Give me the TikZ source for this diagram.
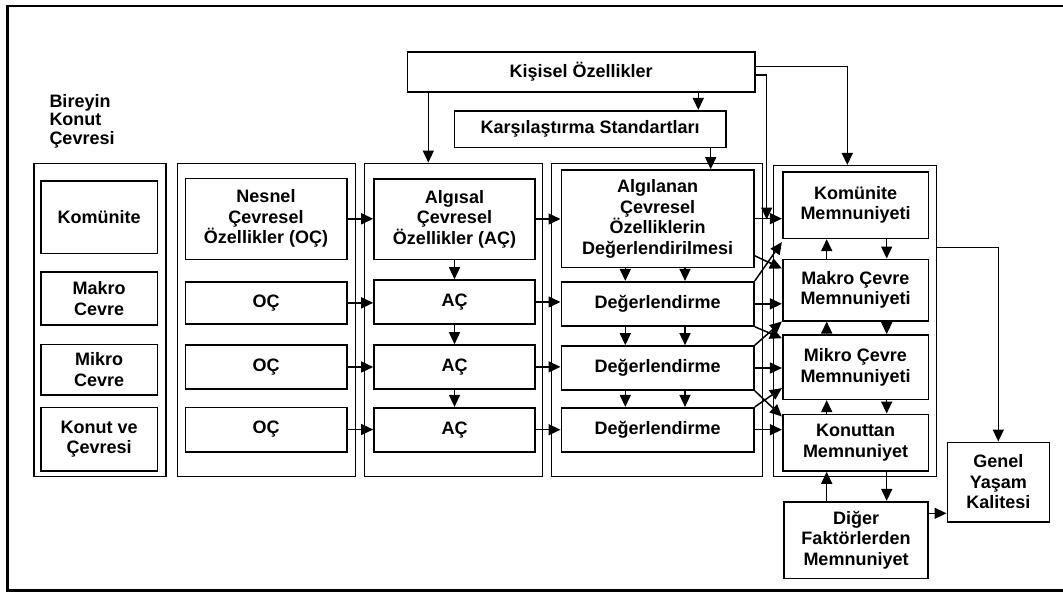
\documentclass[tikz,border=0pt]{standalone}
\usepackage{fontspec}
\setmainfont{Liberation Sans}
\usetikzlibrary{arrows.meta,calc}
\begin{document}
\begin{tikzpicture}[x=1pt,y=-1pt,
  bx/.style={draw, line width=1.6pt, inner sep=0pt, align=center, font=\bfseries\fontsize{18}{20.5}\selectfont},
  grp/.style={draw, line width=1.5pt, inner sep=0pt},
  arr/.style={line width=1.5pt, -{Triangle[length=12pt,width=11pt]}},
  lbl/.style={inner sep=0pt, align=left, font=\bfseries\fontsize{18}{18.4}\selectfont}]
\useasboundingbox (0,0) rectangle (1063,592);
% outer frame
\draw[line width=2.2pt] (1064,6) -- (7.5,6) -- (7.5,590.5) -- (1064,590.5);
% label
\node[lbl, anchor=north west] (title) at (49.3,94) {Bireyin\\Konut\\Çevresi};
% group frames
\node[grp, minimum width=132pt, minimum height=313.4pt] (g1) at (100,320) {};
\node[grp, minimum width=178pt, minimum height=313.4pt] (g2) at (266.7,320) {};
\node[grp, minimum width=178.4pt, minimum height=313.4pt] (g3) at (453.5,320) {};
\node[grp, minimum width=210.6pt, minimum height=313.4pt] (g4) at (657,320) {};
\node[grp, minimum width=163.4pt, minimum height=311pt] (g5) at (855,321.2) {};
% column 1
\node[bx, minimum width=116.3pt, minimum height=72.6pt] (k1) at (99.2,217) {Komünite};
\node[bx, minimum width=116.3pt, minimum height=53.3pt] (k2) at (99.2,298.35) {Makro\\Cevre};
\node[bx, minimum width=116.3pt, minimum height=50.7pt] (k3) at (99.2,369.65) {Mikro\\Cevre};
\node[bx, minimum width=116.3pt, minimum height=63.7pt] (k4) at (99.2,439.15) {Konut ve\\Çevresi};
% column 2
\node[bx, minimum width=161.4pt, minimum height=81pt] (nes) at (266,218.8) {Nesnel\\Çevresel\\Özellikler (OÇ)};
\node[bx, minimum width=161.4pt, minimum height=42.3pt] (oc1) at (266,302.85) {OÇ};
\node[bx, minimum width=161.4pt, minimum height=44pt] (oc2) at (266,367) {OÇ};
\node[bx, minimum width=161.4pt, minimum height=44.4pt] (oc3) at (266,429.5) {OÇ};
% column 3
\node[bx, minimum width=161pt, minimum height=80.6pt] (alg) at (454.5,219) {Algısal\\Çevresel\\Özellikler (AÇ)};
\node[bx, minimum width=161pt, minimum height=44pt] (ac1) at (454.5,302) {AÇ};
\node[bx, minimum width=161pt, minimum height=43.7pt] (ac2) at (454.5,366.85) {AÇ};
\node[bx, minimum width=161pt, minimum height=44pt] (ac3) at (454.5,429.7) {AÇ};
% column 4
\node[bx, minimum width=192.7pt, minimum height=97.3pt] (alg2) at (657.65,218.65) {Algılanan\\Çevresel\\Özelliklerin\\Değerlendirilmesi};
\node[bx, minimum width=192.7pt, minimum height=44.3pt] (d1) at (657.65,303.85) {Değerlendirme};
\node[bx, minimum width=192.7pt, minimum height=44pt] (d2) at (657.65,368) {Değerlendirme};
\node[bx, minimum width=192.7pt, minimum height=44pt] (d3) at (657.65,429.7) {Değerlendirme};
% column 5
\node[bx, minimum width=145.6pt, minimum height=66.6pt] (kom5) at (855.5,205) {Komünite\\Memnuniyeti};
\node[bx, minimum width=145.6pt, minimum height=61.4pt] (mak5) at (855.5,290) {Makro Çevre\\Memnuniyeti};
\node[bx, minimum width=145.6pt, minimum height=64.3pt] (mik5) at (855.5,367.15) {Mikro Çevre\\Memnuniyeti};
\node[bx, minimum width=145.6pt, minimum height=56.7pt] (kon5) at (855.5,442.65) {Konuttan\\Memnuniyet};
% others
\node[bx, minimum width=144.3pt, minimum height=76.6pt] (dig) at (856,540) {Diğer\\Faktörlerden\\Memnuniyet};
\node[bx, minimum width=102pt, minimum height=79.4pt] (gen) at (998.3,482) {Genel\\Yaşam\\Kalitesi};
\node[bx, minimum width=347.7pt, minimum height=40pt] (kis) at (581.15,71.7) {Kişisel Özellikler};
\node[bx, minimum width=271.7pt, minimum height=36.6pt] (kar) at (590.15,129) {Karşılaştırma Standartları};
% helper coordinates
\coordinate (xk1) at (428.3,0);
\coordinate (xk2) at (698.3,0);
\coordinate (xk3) at (710.7,0);
\coordinate (xK) at (847.3,0);
\coordinate (xL) at (766.7,0);
\coordinate (yA) at (0,66.7);
\coordinate (yB) at (0,75);
\coordinate (yC) at (0,219.5);
\coordinate (yG) at (0,247.7);
\coordinate (yH) at (0,513.3);
\coordinate (xa) at (625.3,0);
\coordinate (xb) at (685,0);
\coordinate (xu) at (826.7,0);
\coordinate (xd) at (886.7,0);
% column 2 -> 3
\draw[arr] (nes.east) -- (nes.east -| alg.west);
\draw[arr] (oc1.east) -- (oc1.east -| ac1.west);
\draw[arr] (oc2.east) -- (oc2.east -| ac2.west);
\draw[arr] (oc3.east) -- (oc3.east -| ac3.west);
% column 3 -> 4
\draw[arr] (alg.east) -- (alg.east -| alg2.west);
\draw[arr] (ac1.east) -- (ac1.east -| d1.west);
\draw[arr] (ac2.east) -- (ac2.east -| d2.west);
\draw[arr] (ac3.east) -- (ac3.east -| d3.west);
% column 3 vertical
\draw[arr] (alg.south) -- (ac1.north);
\draw[arr] (ac1.south) -- (ac2.north);
\draw[arr] (ac2.south) -- (ac3.north);
% column 4 vertical
\draw[arr] (alg2.south -| xa) -- (d1.north -| xa);
\draw[arr] (alg2.south -| xb) -- (d1.north -| xb);
\draw[arr] (d1.south -| xa) -- (d2.north -| xa);
\draw[arr] (d1.south -| xb) -- (d2.north -| xb);
\draw[arr] (d2.south -| xa) -- (d3.north -| xa);
\draw[arr] (d2.south -| xb) -- (d3.north -| xb);
% column 4 -> 5
\draw[arr] (alg2.east) -- (alg2.east -| kom5.west);
\draw[arr] (d1.east) -- (d1.east -| mak5.west);
\draw[arr] (d2.east) -- (d2.east -| mik5.west);
\draw[arr] (d3.east) -- (d3.east -| kon5.west);
% crossings
\draw[arr] ($(alg2.south east)+(0,-12.3)$) -- ($(mak5.north west)+(0,10)$);
\draw[arr] (d1.north east) -- ($(kom5.south west)+(0,3)$);
\draw[arr] (d1.south east) -- ($(mik5.north west)+(0,4)$);
\draw[arr] (d2.north east) -- (mak5.south west);
\draw[arr] (d2.south east) -- ($(kon5.north west)+(0,3)$);
\draw[arr] (d3.north east) -- ($(mik5.south west)+(0,-12)$);
% column 5 vertical
\draw[arr] (mak5.north -| xu) -- (kom5.south -| xu);
\draw[arr] (kom5.south -| xd) -- (mak5.north -| xd);
\draw[arr] (mik5.north -| xu) -- (mak5.south -| xu);
\draw[arr] (mak5.south -| xd) -- (mik5.north -| xd);
\draw[arr] (kon5.north -| xu) -- (mik5.south -| xu);
\draw[arr] (mik5.south -| xd) -- (kon5.north -| xd);
\draw[arr] (dig.north -| xu) -- (kon5.south -| xu);
\draw[arr] (kon5.south -| xd) -- (dig.north -| xd);
% Kisisel ozellikler arrows
\draw[arr] (kis.south -| xk1) -- (g3.north -| xk1);
\draw[arr] (kis.south -| xk2) -- (kar.north -| xk2);
\draw[arr] (kar.south -| xk3) -- (alg2.north -| xk3);
\draw[arr] (kis.east |- yA) -| (xK |- g5.north);
\draw[arr] (kis.east |- yB) -| (xL |- yC);
% to Genel
\draw[arr] (g5.east |- yG) -| (gen.north);
\draw[arr] (dig.east |- yH) -- (gen.west |- yH);
\end{tikzpicture}
\end{document}
